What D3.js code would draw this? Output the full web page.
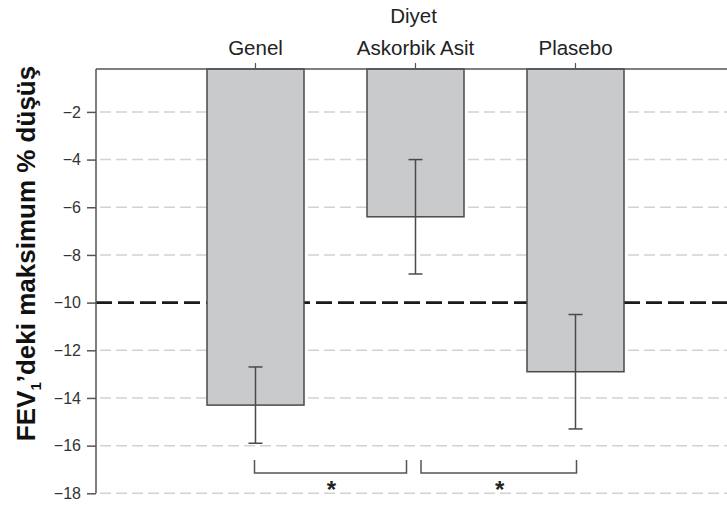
<!DOCTYPE html>
<html>
<head>
<meta charset="utf-8">
<script src="https://cdn.jsdelivr.net/npm/d3@7"></script>
<style>
  html, body { margin: 0; padding: 0; background: #fff; }
  svg { display: block; font-family: "Liberation Sans", Arial, Helvetica, sans-serif; }
</style>
</head>
<body>
<svg id="chart" width="727" height="506"></svg>
<script>
// Diet groups and their mean max % fall in FEV1, with error half-widths
const categories = ["Genel", "Askorbik Asit", "Plasebo"];
const means = [-14.3, -6.4, -12.9];
const errors = [1.6, 2.4, 2.4];
const yTicks = [-2, -4, -6, -8, -10, -12, -14, -16, -18];
const referenceValue = -10;
// significance brackets: [from group, to group]
const brackets = [["Genel", "Askorbik Asit"], ["Askorbik Asit", "Plasebo"]];
const bracketLevels = { top: -16.6, bottom: -17.15 };

const svg = d3.select("#chart");
const W = 727;
const left = 96;

const y = d3.scaleLinear().domain([-0.2, -18]).range([69, 493.3]);
const x = d3.scaleBand().domain(categories)
  .range([175.5, 655.5]).paddingInner(0.39375).paddingOuter(0.196875);
const cx = d => x(d) + x.bandwidth() / 2;

// light dashed grid
svg.append("g").selectAll("line").data(yTicks.filter(t => t !== referenceValue))
  .join("line")
  .attr("x1", left + 4).attr("x2", W)
  .attr("y1", d => y(d)).attr("y2", d => y(d))
  .attr("stroke", "#d2d2d2").attr("stroke-width", 1.5)
  .attr("stroke-dasharray", "11,5");

// reference line at -10
svg.append("line")
  .attr("x1", left).attr("x2", W)
  .attr("y1", y(referenceValue)).attr("y2", y(referenceValue))
  .attr("stroke", "#1a1a1a").attr("stroke-width", 2.6)
  .attr("stroke-dasharray", "16,6");

// bars hanging from the top frame
svg.append("g").selectAll("rect").data(categories)
  .join("rect")
  .attr("x", d => x(d))
  .attr("y", y(-0.2))
  .attr("width", x.bandwidth())
  .attr("height", (d, i) => y(means[i]) - y(-0.2))
  .attr("fill", "#c9cacc")
  .attr("stroke", "#4a4a4a").attr("stroke-width", 1.5);

// error bars
const eb = svg.append("g").attr("stroke", "#4a4a4a").attr("stroke-width", 1.5);
categories.forEach((c, i) => {
  const hi = means[i] + errors[i], lo = means[i] - errors[i];
  eb.append("line").attr("x1", cx(c)).attr("x2", cx(c)).attr("y1", y(hi)).attr("y2", y(lo));
  [hi, lo].forEach(v => eb.append("line")
    .attr("x1", cx(c) - 7).attr("x2", cx(c) + 7).attr("y1", y(v)).attr("y2", y(v)));
});

// left axis
const yAxis = d3.axisLeft(y).tickValues(yTicks).tickSize(9).tickPadding(6)
  .tickFormat(d => "\u2212" + Math.abs(d));
const ga = svg.append("g").attr("transform", `translate(${left},0)`).call(yAxis);
ga.select(".domain").remove();
ga.selectAll(".tick line").attr("stroke", "#555").attr("stroke-width", 1.5);
ga.selectAll(".tick text").attr("fill", "#333").attr("font-size", 16).attr("font-family", "Liberation Sans, Arial, sans-serif");
svg.append("line").attr("x1", left).attr("x2", left).attr("y1", y(-0.2)).attr("y2", y(-18))
  .attr("stroke", "#555").attr("stroke-width", 1.5);

// top axis with group names
svg.append("line").attr("x1", left).attr("x2", W).attr("y1", y(-0.2)).attr("y2", y(-0.2))
  .attr("stroke", "#555").attr("stroke-width", 1.5);
const xAxis = d3.axisTop(x).tickSize(6).tickPadding(8);
const gx = svg.append("g").attr("transform", `translate(0,${y(-0.2)})`).call(xAxis);
gx.select(".domain").remove();
gx.selectAll(".tick line").attr("stroke", "#555").attr("stroke-width", 1.2);
gx.selectAll(".tick text").attr("fill", "#222").attr("font-size", 20.5)
  .attr("font-family", "Liberation Sans, Arial, sans-serif");

svg.append("text")
  .attr("x", cx("Askorbik Asit") - 2).attr("y", 22.7)
  .attr("text-anchor", "middle").attr("font-size", 20.5).attr("fill", "#222")
  .text("Diyet");

// y-axis title
const title = svg.append("text")
  .attr("transform", "translate(35,253.5) rotate(-90)")
  .attr("text-anchor", "middle").attr("font-size", 26).attr("font-weight", "bold")
  .attr("fill", "#111");
title.append("tspan").text("FEV");
title.append("tspan").attr("font-size", 15).attr("dy", 6).text("1");
title.append("tspan").attr("dy", -6).text("\u2019deki maksimum % düşüş");

// significance brackets
const offsets = [[-1, -9], [5.5, 1]];
const gb = svg.append("g").attr("fill", "none").attr("stroke", "#555").attr("stroke-width", 1.5);
brackets.forEach((b, i) => {
  const x1 = cx(b[0]) + offsets[i][0], x2 = cx(b[1]) + offsets[i][1];
  gb.append("path").attr("d",
    `M${x1},${y(bracketLevels.top)}V${y(bracketLevels.bottom)}H${x2}V${y(bracketLevels.top)}`);
  svg.append("text").attr("x", (x1 + x2) / 2 + 1).attr("y", y(bracketLevels.bottom) + 25)
    .attr("text-anchor", "middle").attr("font-size", 24).attr("font-weight", "bold")
    .attr("fill", "#222").text("*");
});
</script>
</body>
</html>
